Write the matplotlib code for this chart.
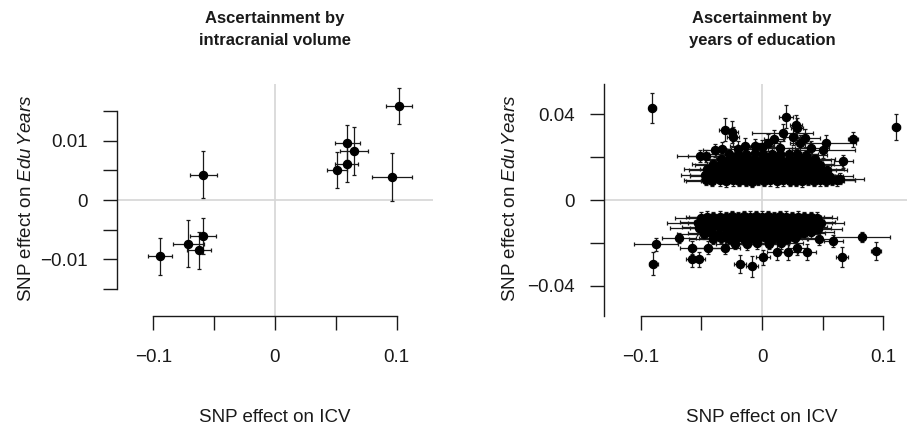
import matplotlib
matplotlib.use("Agg")
import matplotlib.pyplot as plt
from matplotlib.ticker import FixedLocator, FixedFormatter

plt.rcParams['font.family'] = ['Liberation Sans', 'DejaVu Sans']
plt.rcParams['mathtext.fontset'] = 'custom'
plt.rcParams['mathtext.it'] = 'Liberation Sans:italic'
plt.rcParams['mathtext.rm'] = 'Liberation Sans'

# ---------------- Left panel: ascertainment by ICV ----------------
icv_beta_icv = [0.102, 0.0595, 0.065, 0.059, 0.051, 0.0963, -0.059, -0.059, -0.0713, -0.0628, -0.0947]
icv_beta_edu = [0.01583, 0.00966, 0.00825, 0.0060, 0.0050, 0.00388, 0.00427, -0.00606, -0.00734, -0.00847, -0.00943]
icv_se_icv = [0.011, 0.0103, 0.0114, 0.0096, 0.0085, 0.0165, 0.011, 0.0107, 0.0129, 0.0099, 0.0101]
icv_se_edu = [0.0030, 0.0030, 0.0040, 0.0030, 0.0030, 0.0040, 0.0040, 0.0031, 0.0040, 0.0031, 0.0031]

# ---------------- Right panel: ascertainment by EduYears ----------------
# dense positive cluster: (beta_icv, beta_edu, se_icv)
edu_pos_core = [
    (-0.046, 0.0094, 0.018), (-0.041, 0.0089, 0.022), (-0.035, 0.0091, 0.015), (-0.030, 0.0087, 0.020),
    (-0.024, 0.0092, 0.016), (-0.019, 0.0088, 0.021), (-0.013, 0.0090, 0.017), (-0.008, 0.0086, 0.019),
    (-0.003, 0.0093, 0.015), (0.002, 0.0088, 0.018), (0.007, 0.0091, 0.020), (0.012, 0.0087, 0.016),
    (0.017, 0.0092, 0.019), (0.023, 0.0089, 0.017), (0.028, 0.0090, 0.021), (0.033, 0.0087, 0.016),
    (0.038, 0.0093, 0.018), (0.043, 0.0089, 0.020), (0.048, 0.0091, 0.017), (0.053, 0.0088, 0.015),
    (0.058, 0.0095, 0.019),
    (-0.047, 0.0118, 0.020), (-0.042, 0.0112, 0.017), (-0.037, 0.0116, 0.022), (-0.031, 0.0113, 0.018),
    (-0.026, 0.0117, 0.016), (-0.021, 0.0111, 0.020), (-0.016, 0.0115, 0.018), (-0.010, 0.0118, 0.015),
    (-0.005, 0.0112, 0.019), (0.000, 0.0116, 0.017), (0.005, 0.0113, 0.020), (0.010, 0.0117, 0.016),
    (0.015, 0.0111, 0.018), (0.020, 0.0115, 0.021), (0.025, 0.0118, 0.017), (0.030, 0.0112, 0.019),
    (0.035, 0.0116, 0.016), (0.040, 0.0113, 0.020), (0.045, 0.0117, 0.018), (0.050, 0.0111, 0.017),
    (0.055, 0.0114, 0.020),
    (-0.045, 0.0143, 0.019), (-0.039, 0.0138, 0.021), (-0.034, 0.0142, 0.017), (-0.028, 0.0137, 0.018),
    (-0.023, 0.0141, 0.020), (-0.018, 0.0139, 0.016), (-0.012, 0.0144, 0.018), (-0.007, 0.0138, 0.019),
    (-0.002, 0.0142, 0.017), (0.004, 0.0137, 0.020), (0.009, 0.0141, 0.016), (0.014, 0.0139, 0.018),
    (0.019, 0.0143, 0.017), (0.024, 0.0138, 0.019), (0.029, 0.0142, 0.016), (0.034, 0.0137, 0.020),
    (0.039, 0.0141, 0.018), (0.044, 0.0139, 0.017), (0.049, 0.0143, 0.019), (0.054, 0.0138, 0.016),
    (-0.040, 0.0166, 0.018), (-0.035, 0.0162, 0.020), (-0.029, 0.0167, 0.016), (-0.024, 0.0163, 0.019),
    (-0.019, 0.0168, 0.017), (-0.013, 0.0162, 0.018), (-0.008, 0.0166, 0.020), (-0.003, 0.0163, 0.016),
    (0.003, 0.0167, 0.018), (0.008, 0.0162, 0.017), (0.013, 0.0166, 0.019), (0.018, 0.0163, 0.016),
    (0.023, 0.0168, 0.018), (0.028, 0.0162, 0.020), (0.033, 0.0166, 0.017), (0.038, 0.0163, 0.019),
    (0.043, 0.0167, 0.016), (0.048, 0.0162, 0.018),
    (-0.034, 0.0190, 0.017), (-0.028, 0.0187, 0.019), (-0.022, 0.0192, 0.016), (-0.017, 0.0188, 0.018),
    (-0.011, 0.0191, 0.017), (-0.006, 0.0186, 0.019), (0.000, 0.0190, 0.016), (0.005, 0.0188, 0.018),
    (0.011, 0.0192, 0.017), (0.016, 0.0187, 0.019), (0.022, 0.0191, 0.016), (0.027, 0.0188, 0.018),
    (0.033, 0.0190, 0.017), (0.038, 0.0186, 0.019), (0.044, 0.0189, 0.016),
    (-0.027, 0.0212, 0.017), (-0.020, 0.0216, 0.018), (-0.013, 0.0213, 0.016), (-0.006, 0.0217, 0.019),
    (0.001, 0.0214, 0.017), (0.008, 0.0216, 0.018), (0.015, 0.0212, 0.016), (0.022, 0.0215, 0.019),
    (0.029, 0.0213, 0.017), (0.036, 0.0210, 0.018),
]
# sparser positive SNPs: (beta_icv, beta_edu, se_icv, se_edu)
edu_pos_outer = [
    (-0.0904, 0.0429, 0.003, 0.0071), (0.1105, 0.0339, 0.003, 0.0060), (0.0198, 0.0387, 0.006, 0.0054),
    (0.0280, 0.0348, 0.005, 0.0050), (0.0286, 0.0335, 0.005, 0.0045), (0.0753, 0.0282, 0.004, 0.0035),
    (-0.0305, 0.0328, 0.005, 0.0052), (-0.0250, 0.0317, 0.005, 0.0050), (-0.0236, 0.0294, 0.005, 0.0045),
    (0.0170, 0.0314, 0.025, 0.0040), (0.0253, 0.0294, 0.006, 0.0040), (0.0355, 0.0289, 0.012, 0.0040),
    (0.0099, 0.0286, 0.008, 0.0040), (0.0052, 0.0267, 0.010, 0.0040), (0.0313, 0.0264, 0.008, 0.0040),
    (0.0525, 0.0267, 0.025, 0.0035), (0.0506, 0.0232, 0.026, 0.0035), (0.0670, 0.0180, 0.008, 0.0030),
    (0.0643, 0.0100, 0.020, 0.0025), (0.0620, 0.0092, 0.015, 0.0025), (-0.0511, 0.0205, 0.019, 0.0030),
    (-0.0462, 0.0205, 0.015, 0.0030), (-0.0387, 0.0232, 0.010, 0.0030), (-0.0332, 0.0239, 0.008, 0.0030),
    (-0.0195, 0.0239, 0.012, 0.0035), (-0.0140, 0.0253, 0.012, 0.0035), (-0.0058, 0.0250, 0.015, 0.0035),
    (0.0000, 0.0245, 0.010, 0.0035), (0.0150, 0.0240, 0.012, 0.0035), (0.0400, 0.0240, 0.015, 0.0035),
]
# dense negative cluster: (beta_icv, beta_edu, se_icv)
edu_neg_core = [
    (-0.050, -0.0082, 0.022), (-0.045, -0.0078, 0.018), (-0.040, -0.0081, 0.020), (-0.035, -0.0077, 0.017),
    (-0.030, -0.0080, 0.019), (-0.025, -0.0076, 0.016), (-0.020, -0.0079, 0.018), (-0.015, -0.0075, 0.017),
    (-0.010, -0.0078, 0.019), (-0.005, -0.0076, 0.016), (0.000, -0.0077, 0.018), (0.005, -0.0075, 0.017),
    (0.010, -0.0079, 0.019), (0.015, -0.0076, 0.016), (0.020, -0.0078, 0.018), (0.025, -0.0080, 0.017),
    (0.030, -0.0077, 0.019), (0.035, -0.0081, 0.016), (0.040, -0.0079, 0.018), (0.045, -0.0083, 0.017),
    (-0.053, -0.0106, 0.025), (-0.048, -0.0102, 0.020), (-0.043, -0.0107, 0.018), (-0.037, -0.0103, 0.019),
    (-0.032, -0.0108, 0.017), (-0.027, -0.0102, 0.018), (-0.022, -0.0106, 0.016), (-0.017, -0.0103, 0.019),
    (-0.012, -0.0107, 0.017), (-0.007, -0.0101, 0.018), (-0.002, -0.0105, 0.016), (0.003, -0.0102, 0.019),
    (0.008, -0.0106, 0.017), (0.013, -0.0103, 0.018), (0.018, -0.0108, 0.016), (0.023, -0.0102, 0.019),
    (0.028, -0.0106, 0.017), (0.033, -0.0103, 0.018), (0.038, -0.0107, 0.020), (0.043, -0.0104, 0.017),
    (0.049, -0.0108, 0.019),
    (-0.052, -0.0131, 0.024), (-0.046, -0.0127, 0.020), (-0.041, -0.0132, 0.018), (-0.035, -0.0128, 0.019),
    (-0.030, -0.0133, 0.017), (-0.025, -0.0127, 0.018), (-0.019, -0.0131, 0.016), (-0.014, -0.0128, 0.019),
    (-0.009, -0.0132, 0.017), (-0.004, -0.0127, 0.018), (0.001, -0.0131, 0.016), (0.006, -0.0128, 0.019),
    (0.011, -0.0133, 0.017), (0.016, -0.0127, 0.018), (0.021, -0.0131, 0.016), (0.026, -0.0128, 0.019),
    (0.031, -0.0132, 0.017), (0.036, -0.0128, 0.018), (0.041, -0.0131, 0.016), (0.046, -0.0135, 0.020),
    (-0.048, -0.0156, 0.022), (-0.042, -0.0152, 0.019), (-0.036, -0.0157, 0.018), (-0.030, -0.0153, 0.017),
    (-0.024, -0.0158, 0.019), (-0.019, -0.0152, 0.016), (-0.013, -0.0156, 0.018), (-0.008, -0.0153, 0.017),
    (-0.002, -0.0157, 0.019), (0.004, -0.0152, 0.016), (0.009, -0.0156, 0.018), (0.014, -0.0153, 0.017),
    (0.020, -0.0157, 0.019), (0.025, -0.0152, 0.016), (0.030, -0.0156, 0.018), (0.035, -0.0153, 0.017),
    (0.040, -0.0150, 0.019),
    (-0.040, -0.0180, 0.020), (-0.034, -0.0177, 0.018), (-0.027, -0.0182, 0.017), (-0.021, -0.0178, 0.019),
    (-0.015, -0.0183, 0.016), (-0.009, -0.0177, 0.018), (-0.003, -0.0181, 0.017), (0.003, -0.0178, 0.019),
    (0.009, -0.0182, 0.016), (0.015, -0.0177, 0.018), (0.021, -0.0180, 0.017), (0.027, -0.0176, 0.019),
    (-0.022, -0.0203, 0.016), (-0.012, -0.0207, 0.018), (-0.004, -0.0202, 0.017), (0.006, -0.0205, 0.016),
    (0.016, -0.0201, 0.018),
]
# sparser negative SNPs: (beta_icv, beta_edu, se_icv, se_edu)
edu_neg_outer = [
    (-0.0874, -0.0207, 0.018, 0.0030), (-0.0896, -0.0297, 0.004, 0.0054), (-0.0684, -0.0177, 0.014, 0.0025),
    (-0.0580, -0.0222, 0.010, 0.0030), (-0.0580, -0.0275, 0.005, 0.0039), (-0.0517, -0.0275, 0.005, 0.0035),
    (-0.0442, -0.0222, 0.010, 0.0030), (-0.0305, -0.0222, 0.012, 0.0030), (-0.0181, -0.0300, 0.005, 0.0042),
    (-0.0080, -0.0309, 0.005, 0.0050), (0.0010, -0.0266, 0.006, 0.0035), (0.0121, -0.0242, 0.008, 0.0035),
    (0.0217, -0.0242, 0.008, 0.0035), (0.0291, -0.0222, 0.008, 0.0035), (0.0368, -0.0242, 0.008, 0.0035),
    (0.0473, -0.0180, 0.010, 0.0028), (0.0588, -0.0191, 0.008, 0.0030), (0.0660, -0.0266, 0.005, 0.0047),
    (0.0824, -0.0172, 0.0234, 0.0023), (0.0940, -0.0239, 0.004, 0.0042),
]
core_se_edu = 0.0025

xticks = [-0.1, -0.05, 0, 0.05, 0.1]
xticklabels = ['\u22120.1', '', '0', '', '0.1']
left_yticks = [-0.015, -0.01, -0.005, 0, 0.005, 0.01, 0.015]
left_yticklabels = ['', '\u22120.01', '', '0', '', '0.01', '']
right_yticks = [-0.04, -0.02, 0, 0.02, 0.04]
right_yticklabels = ['\u22120.04', '', '0', '', '0.04']

W, H = 907, 428
fig = plt.figure(figsize=(W / 100, H / 100), dpi=100)

def px(x, y):
    return x / W, 1 - y / H

axL = fig.add_axes([117 / W, (H - 316) / H, 316 / W, 232 / H])
axR = fig.add_axes([604 / W, (H - 316) / H, 316 / W, 232 / H])

ink = '#1a1a1a'
eb_kw = dict(fmt='o', color='black', ms=5.8, ecolor=ink, elinewidth=0.9,
             capsize=1.3, capthick=0.9, zorder=3)

# left
axL.errorbar(icv_beta_icv, icv_beta_edu, xerr=icv_se_icv, yerr=icv_se_edu, **eb_kw)
axL.set_xlim(-0.13, 0.13)
axL.set_ylim(-0.0195, 0.0195)

# right
for grp in (edu_pos_core, edu_neg_core):
    gx = [p[0] for p in grp]
    gy = [p[1] for p in grp]
    gsx = [p[2] for p in grp]
    axR.errorbar(gx, gy, xerr=gsx, yerr=core_se_edu, **eb_kw)
for grp in (edu_pos_outer, edu_neg_outer):
    gx = [p[0] for p in grp]
    gy = [p[1] for p in grp]
    gsx = [p[2] for p in grp]
    gsy = [p[3] for p in grp]
    axR.errorbar(gx, gy, xerr=gsx, yerr=gsy, **eb_kw)
axR.set_xlim(-0.1303, 0.1303)
axR.set_ylim(-0.054, 0.054)

for ax, yt, ytl, ybounds in ((axL, left_yticks, left_yticklabels, (-0.015, 0.015)),
                             (axR, right_yticks, right_yticklabels, (-0.054, 0.054))):
    ax.axhline(0, color='#d6d6d6', lw=1.2, zorder=0)
    ax.axvline(0, color='#d6d6d6', lw=1.2, zorder=0)
    ax.set_facecolor('none')
    for s in ('top', 'right'):
        ax.spines[s].set_visible(False)
    for s in ('left', 'bottom'):
        ax.spines[s].set_color(ink)
        ax.spines[s].set_linewidth(1.0)
    ax.spines['bottom'].set_bounds(-0.1, 0.1)
    ax.spines['left'].set_bounds(*ybounds)
    ax.xaxis.set_major_locator(FixedLocator(xticks))
    ax.xaxis.set_major_formatter(FixedFormatter(xticklabels))
    ax.yaxis.set_major_locator(FixedLocator(yt))
    ax.yaxis.set_major_formatter(FixedFormatter(ytl))
    ax.tick_params(axis='both', direction='out', length=10, width=1.0, color=ink,
                   labelsize=13.5, labelcolor=ink)
    ax.tick_params(axis='x', pad=14)
    ax.tick_params(axis='y', pad=11)

tkw = dict(fontsize=12, fontweight='bold', ha='center', va='baseline', color=ink)
fig.text(*px(275, 22.7), 'Ascertainment by', **tkw)
fig.text(*px(275, 45), 'intracranial volume', **tkw)
fig.text(*px(762, 22.7), 'Ascertainment by', **tkw)
fig.text(*px(762, 45), 'years of education', **tkw)

lkw = dict(fontsize=13.5, color=ink)
fig.text(*px(275, 421.7), 'SNP effect on ICV', ha='center', va='baseline', **lkw)
fig.text(*px(762, 421.7), 'SNP effect on ICV', ha='center', va='baseline', **lkw)
ylab = 'SNP effect on $\\mathit{Edu\\,Years}$'
fig.text(*px(27, 198), ylab, rotation=90, ha='center', va='center', **lkw)
fig.text(*px(511, 198), ylab, rotation=90, ha='center', va='center', **lkw)

fig.savefig('out.png', dpi=100, facecolor='white')
